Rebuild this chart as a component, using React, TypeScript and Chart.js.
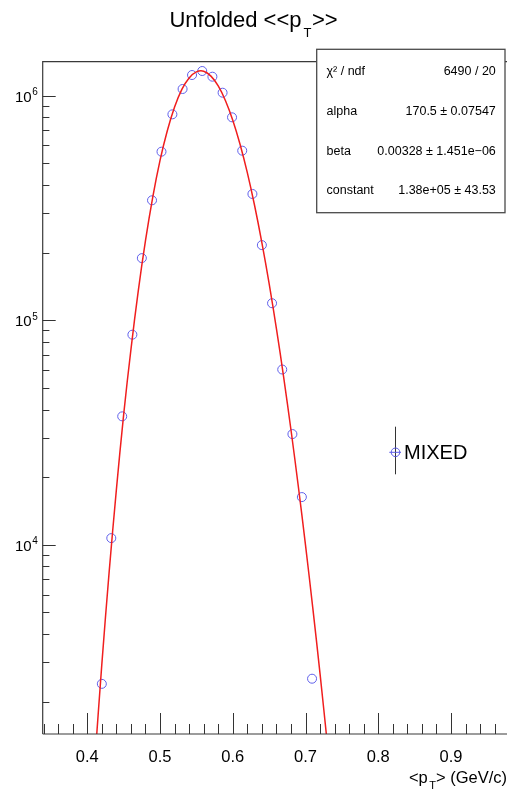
import React, { useEffect, useRef } from 'react';
import { Chart, registerables } from 'chart.js';

Chart.register(...registerables);

// ---- data ----
const pT = [0.420, 0.433, 0.448, 0.462, 0.475, 0.489, 0.502, 0.517, 0.531, 0.544, 0.558,
  0.572, 0.586, 0.599, 0.613, 0.627, 0.640, 0.654, 0.668, 0.682, 0.695, 0.709];
const counts = [2400, 10700, 37300, 86200, 189000, 342000, 563000, 826000, 1071000, 1236000, 1288000,
  1215000, 1031000, 801000, 569000, 365000, 216000, 119000, 60300, 31100, 16300, 2530];

const fitX = [0.41, 0.42, 0.43, 0.44, 0.45, 0.46, 0.47, 0.48, 0.49, 0.50, 0.51, 0.52, 0.53, 0.54,
  0.55, 0.56, 0.57, 0.58, 0.59, 0.60, 0.61, 0.62, 0.63, 0.64, 0.65, 0.66, 0.67, 0.68, 0.69, 0.70,
  0.71, 0.72, 0.73];
const fitY = [1046, 2938, 7529, 17590, 37990, 74010, 134400, 226000, 353400, 514700, 697600, 889400,
  1066000, 1199000, 1276000, 1285000, 1222000, 1105000, 950100, 777900, 607700, 454200, 324300,
  221700, 145500, 91790, 55620, 32510, 18310, 9951, 5232, 2658, 1300];

const xTickValues = [0.4, 0.5, 0.6, 0.7, 0.8, 0.9];
const xTickLabels = ['0.4', '0.5', '0.6', '0.7', '0.8', '0.9'];
const yDecades = [4, 5, 6];
const yDecadeLabels = ['4', '5', '6'];

const statsLabels = ['χ² / ndf', 'alpha', 'beta', 'constant'];
const statsValues = ['6490 / 20', '170.5 ± 0.07547', '0.00328 ± 1.451e−06', '1.38e+05 ± 43.53'];
const legendLabel = 'MIXED';

const X_MIN = 0.3387;
const X_MAX = 0.977;
const Y_MIN = 1435;
const Y_MAX = 1.417e6;

const FONT = '"Liberation Sans", Arial, Helvetica, sans-serif';

const decorPlugin = {
  id: 'rootDecor',
  afterDraw(chart: any) {
    const { ctx, chartArea: a } = chart;
    const xs = chart.scales.x;
    const ys = chart.scales.y;
    ctx.save();

    // frame
    ctx.strokeStyle = '#3a3a3a';
    ctx.lineWidth = 1.2;
    ctx.beginPath();
    ctx.moveTo(a.left, a.bottom);
    ctx.lineTo(a.left, a.top);
    ctx.lineTo(a.right, a.top);
    ctx.moveTo(a.left, a.bottom);
    ctx.lineTo(a.right, a.bottom);
    ctx.stroke();

    // x ticks (major 0.1, minor 0.02)
    ctx.strokeStyle = '#333';
    ctx.lineWidth = 1;
    ctx.beginPath();
    for (let k = 15; k <= 50; k++) {
      const v = k * 0.02;
      if (v < xs.min || v > xs.max) continue;
      const px = Math.round(xs.getPixelForValue(v)) + 0.5;
      const len = k % 5 === 0 ? 21 : 10;
      ctx.moveTo(px, a.bottom);
      ctx.lineTo(px, a.bottom - len);
    }
    // y ticks (log)
    for (let d = 3; d <= 6; d++) {
      for (let m = 1; m <= 9; m++) {
        const v = m * Math.pow(10, d);
        if (v < ys.min || v > ys.max) continue;
        const py = Math.round(ys.getPixelForValue(v)) + 0.5;
        const len = m === 1 ? 13 : 6.7;
        ctx.moveTo(a.left, py);
        ctx.lineTo(a.left + len, py);
      }
    }
    ctx.stroke();

    // x tick labels
    ctx.fillStyle = '#000';
    ctx.font = `16.5px ${FONT}`;
    ctx.textAlign = 'center';
    ctx.textBaseline = 'alphabetic';
    xTickValues.forEach((v, i) => {
      ctx.fillText(xTickLabels[i], xs.getPixelForValue(v), 762);
    });

    // y tick labels 10^n
    yDecades.forEach((d, i) => {
      const py = ys.getPixelForValue(Math.pow(10, d));
      ctx.textAlign = 'left';
      ctx.font = `15px ${FONT}`;
      ctx.fillText('10', 15, py + 6);
      const w = ctx.measureText('10').width;
      ctx.font = `10px ${FONT}`;
      ctx.fillText(yDecadeLabels[i], 15 + w + 0.5, py - 0.5);
    });

    // x axis title  <p_T> (GeV/c), right aligned
    {
      const right = 507;
      ctx.textAlign = 'left';
      ctx.font = `16.5px ${FONT}`;
      const w1 = ctx.measureText('<p').width;
      const w3 = ctx.measureText('> (GeV/c)').width;
      ctx.font = `11px ${FONT}`;
      const w2 = ctx.measureText('T').width;
      const gap = 1.5;
      const total = w1 + gap + w2 + w3;
      const x0 = right - total;
      ctx.font = `16.5px ${FONT}`;
      ctx.fillText('<p', x0, 783.3);
      ctx.font = `11px ${FONT}`;
      ctx.fillText('T', x0 + w1 + gap, 789);
      ctx.font = `16.5px ${FONT}`;
      ctx.fillText('> (GeV/c)', x0 + w1 + gap + w2, 783.3);
    }

    // title Unfolded <<p_T>>
    {
      ctx.textAlign = 'left';
      ctx.font = `22px ${FONT}`;
      const w1 = ctx.measureText('Unfolded <<p').width;
      const w3 = ctx.measureText('>>').width;
      ctx.font = `13px ${FONT}`;
      const w2 = ctx.measureText('T').width;
      const gap = 2;
      const total = w1 + gap + w2 + w3;
      const x0 = 253.3 - total / 2;
      ctx.font = `22px ${FONT}`;
      ctx.fillText('Unfolded <<p', x0, 26.7);
      ctx.font = `13px ${FONT}`;
      ctx.fillText('T', x0 + w1 + gap, 36.5);
      ctx.font = `22px ${FONT}`;
      ctx.fillText('>>', x0 + w1 + gap + w2 + 0.5, 26.7);
    }

    // stats box
    {
      const bx = 316.7, by = 49.3, bw = 505 - 316.7, bh = 212.7 - 49.3;
      ctx.fillStyle = '#fff';
      ctx.fillRect(bx, by, bw, bh);
      ctx.strokeStyle = '#4a4a4a';
      ctx.lineWidth = 1.3;
      ctx.strokeRect(bx, by, bw, bh);
      ctx.fillStyle = '#000';
      ctx.font = `12.5px ${FONT}`;
      ctx.textBaseline = 'middle';
      const rowsY = [71.7, 111.5, 151.2, 190.9];
      statsLabels.forEach((lab, i) => {
        ctx.textAlign = 'left';
        ctx.fillText(lab, 326.5, rowsY[i]);
        ctx.textAlign = 'right';
        ctx.fillText(statsValues[i], 495.8, rowsY[i]);
      });
      ctx.textBaseline = 'alphabetic';
    }

    // legend entry
    {
      const cx = 395, cy = 452.3;
      ctx.strokeStyle = '#333';
      ctx.lineWidth = 1;
      ctx.beginPath();
      ctx.moveTo(cx + 0.5, 426.7);
      ctx.lineTo(cx + 0.5, 474.3);
      ctx.stroke();
      ctx.strokeStyle = 'rgb(90,90,230)';
      ctx.beginPath();
      ctx.moveTo(389.3, cy);
      ctx.lineTo(401, cy);
      ctx.stroke();
      ctx.beginPath();
      ctx.arc(cx + 0.5, cy, 4.3, 0, Math.PI * 2);
      ctx.stroke();
      ctx.fillStyle = '#000';
      ctx.font = `20px ${FONT}`;
      ctx.textAlign = 'left';
      ctx.fillText(legendLabel, 404, 459.3);
    }

    ctx.restore();
  },
};

export default function App() {
  const ref = useRef<HTMLCanvasElement | null>(null);

  useEffect(() => {
    if (!ref.current) return;
    const chart = new Chart(ref.current, {
      type: 'scatter',
      data: {
        datasets: [
          {
            label: 'fit',
            data: fitX.map((x, i) => ({ x, y: fitY[i] })),
            showLine: true,
            borderColor: 'rgb(240,30,30)',
            borderWidth: 1.5,
            pointRadius: 0,
            tension: 0.35,
            fill: false,
          },
          {
            label: legendLabel,
            data: pT.map((x, i) => ({ x, y: counts[i] })),
            showLine: false,
            pointStyle: 'circle',
            pointRadius: 4.5,
            borderWidth: 1,
            borderColor: 'rgb(95,95,235)',
            backgroundColor: 'rgba(0,0,0,0)',
          },
        ],
      },
      options: {
        responsive: false,
        animation: false,
        devicePixelRatio: 1,
        events: [],
        layout: { autoPadding: false, padding: { left: 42.7, right: 0, top: 61.7, bottom: 57 } },
        scales: {
          x: { type: 'linear', min: X_MIN, max: X_MAX, display: false },
          y: { type: 'logarithmic', min: Y_MIN, max: Y_MAX, display: false },
        },
        plugins: {
          legend: { display: false },
          tooltip: { enabled: false },
          title: { display: false },
        },
      },
      plugins: [decorPlugin],
    });
    return () => chart.destroy();
  }, []);

  return (
    <div style={{ position: 'absolute', left: 0, top: 0, width: 507, height: 791, background: '#fff' }}>
      <canvas ref={ref} width={507} height={791} style={{ display: 'block' }} />
    </div>
  );
}
